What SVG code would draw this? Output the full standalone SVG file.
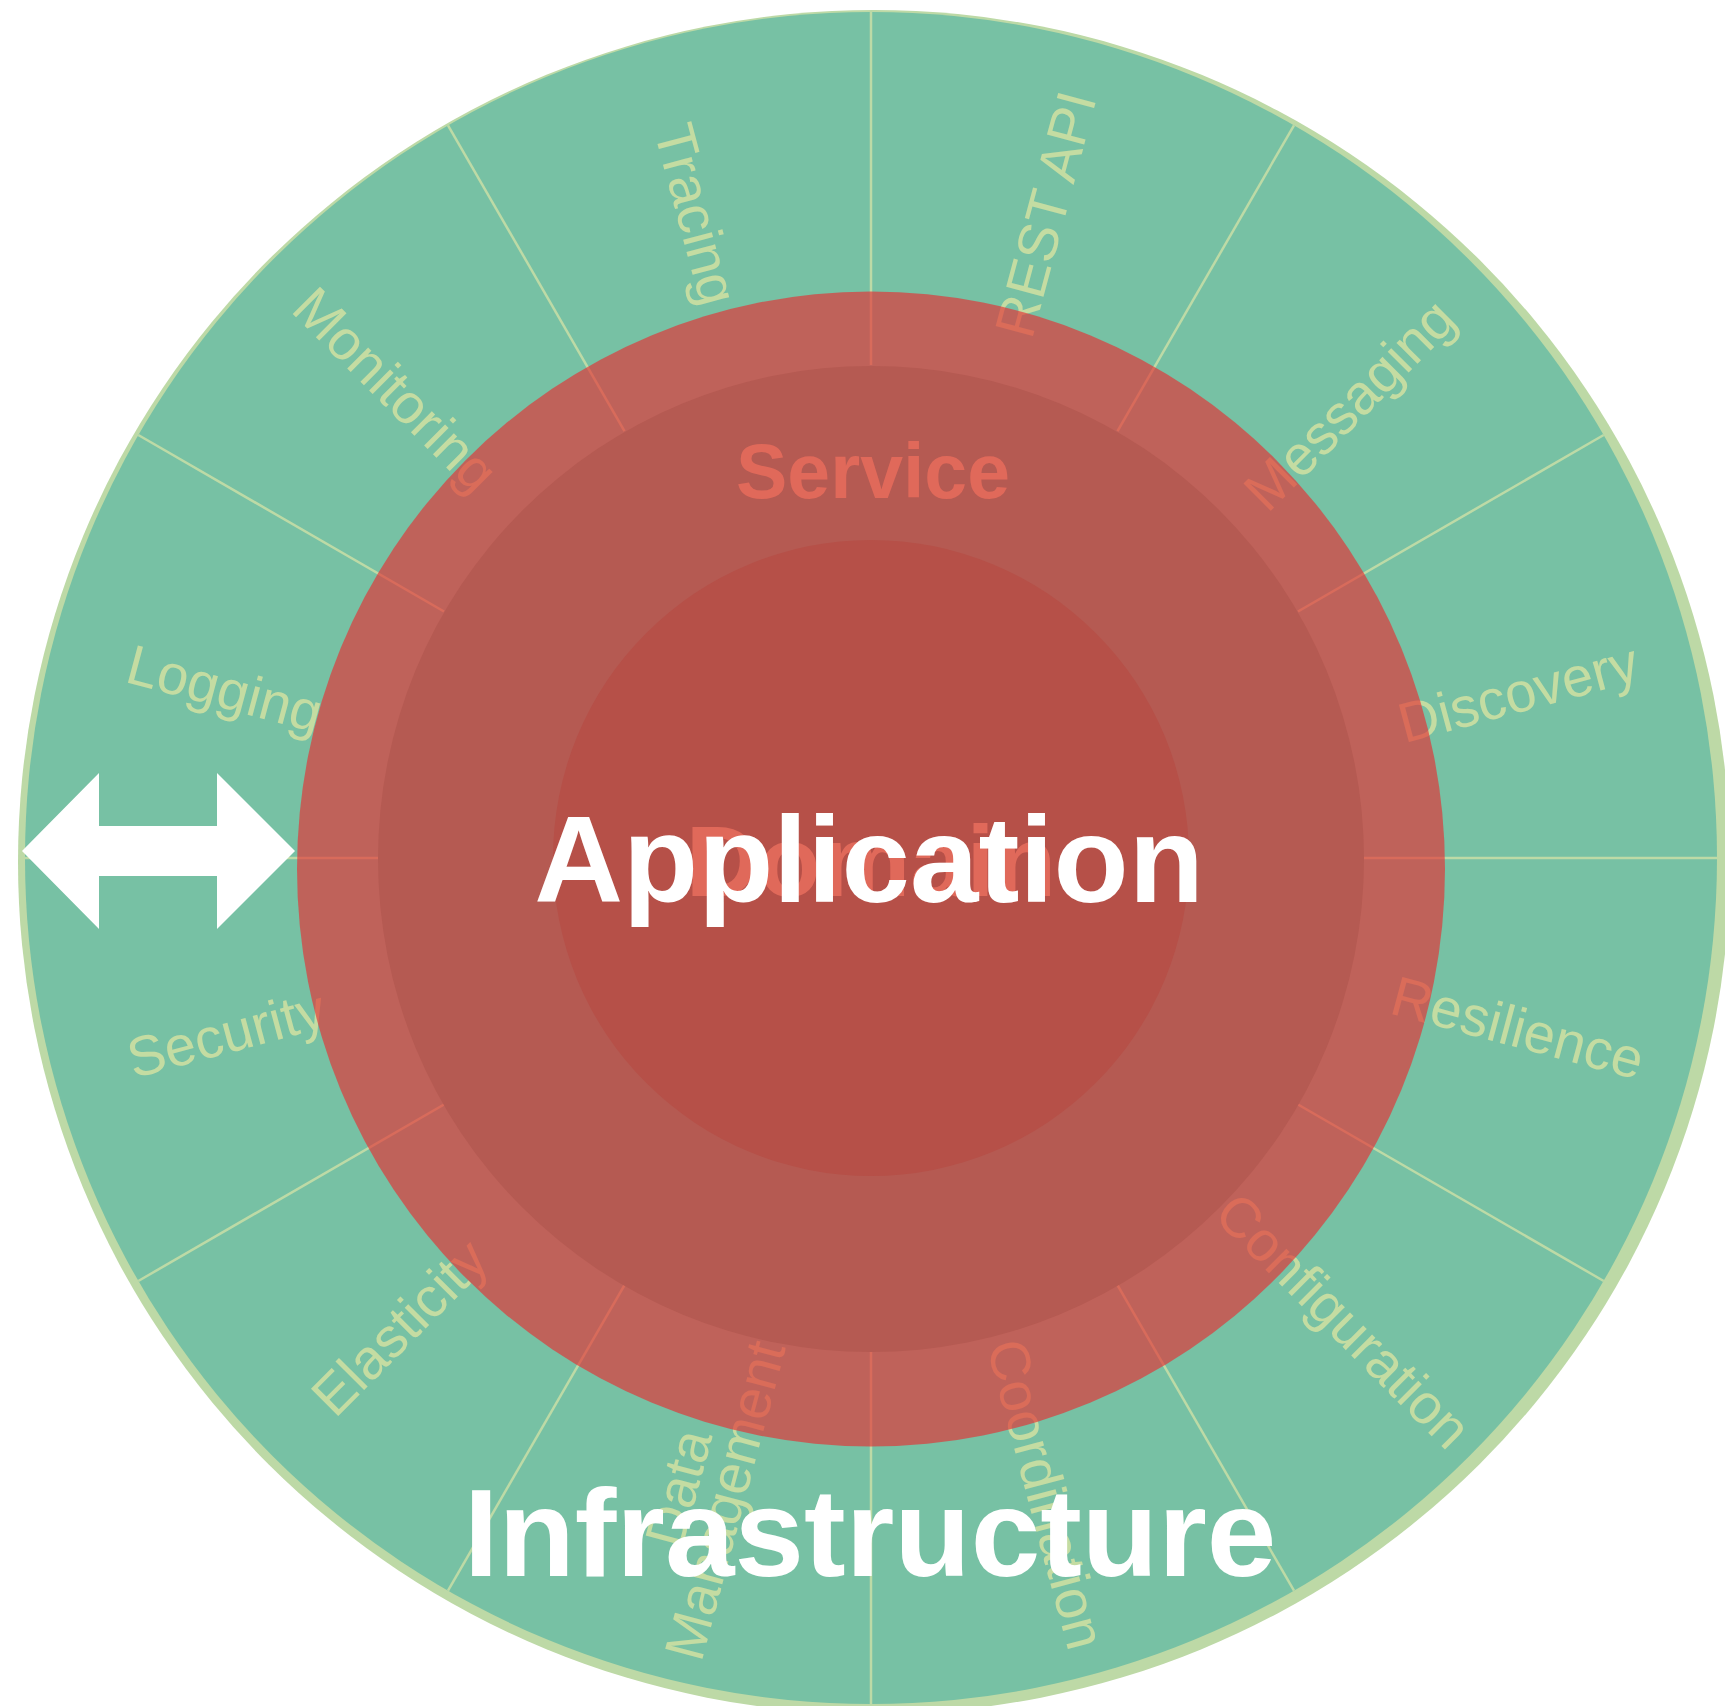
<svg xmlns="http://www.w3.org/2000/svg" width="1725" height="1706" viewBox="0 0 1725 1706">
  <style>
    .seg { font-family: "Liberation Sans", Arial, sans-serif; font-size: 56px; fill: #C4DCA2; text-anchor: middle; }
    .line { stroke: #BDDAA6; stroke-width: 2.5; fill: none; }
    .big { font-family: "Liberation Sans", Arial, sans-serif; font-weight: bold; text-anchor: middle; }
    .white { fill: #FFFFFF; }
    .salmon { fill: #E0695A; }
  </style>
  <rect width="1725" height="1706" fill="#FFFFFF"/>

  <g id="infrastructure-ring">
    <ellipse cx="874" cy="862" rx="856" ry="852" fill="#BDD9A6"/>
    <circle cx="871" cy="858" r="846" fill="#77C1A4"/>
  </g>

  <g id="connectors">
    <line class="line" x1="1364" y1="858" x2="1717" y2="858"/>
    <line class="line" x1="1298" y1="611.5" x2="1603.7" y2="435"/>
    <line class="line" x1="1117.5" y1="431" x2="1294" y2="125.3"/>
    <line class="line" x1="871" y1="365" x2="871" y2="12"/>
    <line class="line" x1="624.5" y1="431" x2="448" y2="125.3"/>
    <line class="line" x1="444" y1="611.5" x2="138.3" y2="435"/>
    <line class="line" x1="378" y1="858" x2="25" y2="858"/>
    <line class="line" x1="444" y1="1104.5" x2="138.3" y2="1281"/>
    <line class="line" x1="624.5" y1="1285" x2="448" y2="1590.7"/>
    <line class="line" x1="871" y1="1351" x2="871" y2="1704"/>
    <line class="line" x1="1117.5" y1="1285" x2="1294" y2="1590.7"/>
    <line class="line" x1="1298" y1="1104.5" x2="1603.7" y2="1281"/>
  </g>

  <g id="label-discovery"><text class="seg" transform="translate(1518 692) rotate(-15)" y="20">Discovery</text></g>
  <g id="label-messaging"><text class="seg" transform="translate(1349 404) rotate(-45)" y="20">Messaging</text></g>
  <g id="label-rest-api"><text class="seg" transform="translate(1045 214) rotate(-75)" y="20">REST API</text></g>
  <g id="label-tracing"><text class="seg" transform="translate(697 214) rotate(75)" y="20">Tracing</text></g>
  <g id="label-monitoring"><text class="seg" transform="translate(396 389) rotate(45)" y="20">Monitoring</text></g>
  <g id="label-logging"><text class="seg" transform="translate(225 688) rotate(15)" y="20">Logging</text></g>
  <g id="label-security"><text class="seg" transform="translate(226 1033) rotate(-15)" y="20">Security</text></g>
  <g id="label-elasticity"><text class="seg" transform="translate(399 1327) rotate(-45)" y="20">Elasticity</text></g>
  <g id="label-data-management"><text class="seg" transform="translate(701 1494) rotate(-75)"><tspan x="0" y="-4">Data</tspan><tspan x="0" y="44">Management</tspan></text></g>
  <g id="label-coordination"><text class="seg" transform="translate(1047 1494) rotate(75)" y="20">Coordination</text></g>
  <g id="label-configuration"><text class="seg" transform="translate(1344 1320) rotate(45)" y="20">Configuration</text></g>
  <g id="label-resilience"><text class="seg" transform="translate(1518 1027) rotate(15)" y="20">Resilience</text></g>

  <g id="application-ring">
    <ellipse cx="871" cy="869" rx="574" ry="577.5" fill="#E63032" fill-opacity="0.65"/>
  </g>

  <g id="service">
    <circle cx="871" cy="859" r="493" fill="#B55A52"/>
    <text class="big salmon" x="873" y="498" font-size="77">Service</text>
  </g>

  <g id="domain">
    <circle cx="871" cy="858" r="318" fill="#B65048"/>
    <text class="big salmon" x="871" y="896" font-size="101">Domain</text>
  </g>

  <g id="application-title">
    <text class="big white" x="869" y="902" font-size="123">Application</text>
  </g>

  <g id="infrastructure-title">
    <text class="big white" x="870" y="1576" font-size="125">Infrastructure</text>
  </g>

  <g id="double-arrow">
    <polygon class="white" points="22,851 99,773 99,826 217,826 217,773 295,851 217,929 217,876 99,876 99,929"/>
  </g>
</svg>
